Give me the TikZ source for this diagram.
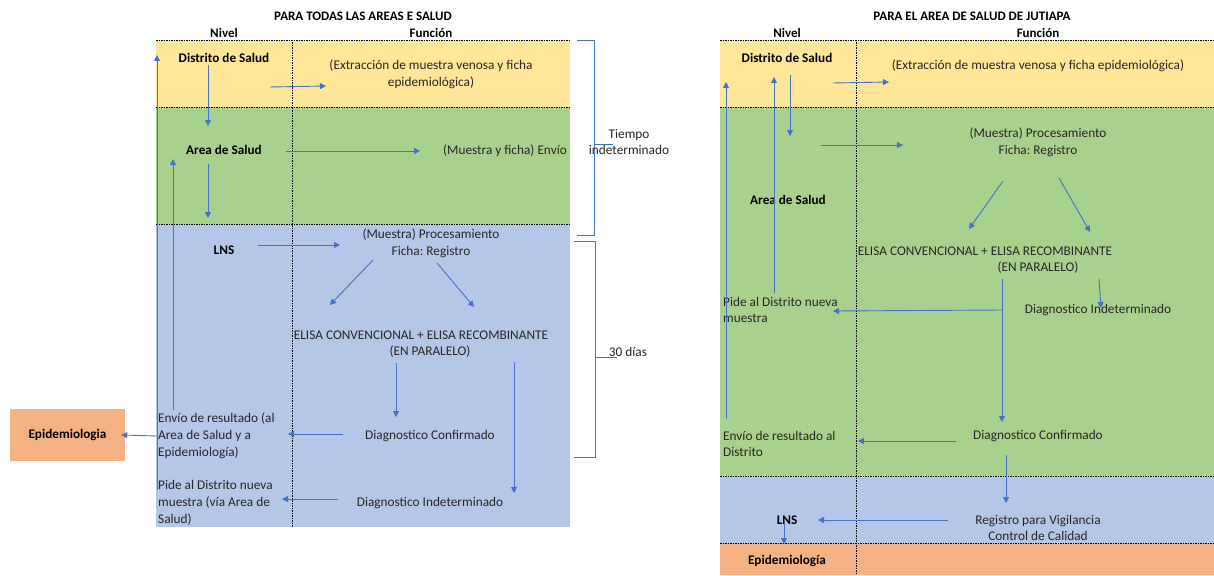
\documentclass[tikz,border=0pt]{standalone}
\usepackage{fontspec}
\setmainfont{Carlito}
\frenchspacing
\usetikzlibrary{arrows.meta}
\definecolor{cyellow}{HTML}{FFE699}
\definecolor{cgreen}{HTML}{A9D18E}
\definecolor{cblue}{HTML}{B4C7E7}
\definecolor{corange}{HTML}{F4B183}
\definecolor{carrow}{HTML}{4472C4}
\begin{document}
\begin{tikzpicture}[x=1pt,y=-1pt,
 txt/.style={font=\fontsize{13.3}{16.8}\selectfont, inner sep=0pt, align=center, text=black!85},
 txtl/.style={txt, align=left, anchor=west},
 lbl/.style={font=\bfseries\fontsize{13.2}{15}\selectfont, inner sep=0pt},
 ttl/.style={font=\bfseries\fontsize{13}{15}\selectfont, inner sep=0pt},
 arr/.style={draw=carrow, line width=0.9pt, -{Triangle[length=6pt,width=6pt]}},
 ln/.style={draw=carrow, line width=0.9pt},
 sep/.style={draw=black, line width=0.9pt, dash pattern=on 1.5pt off 1pt},
 brace/.style={draw=carrow, line width=1pt}]
\useasboundingbox (0,0) rectangle (1214,575);

% ---------- LEFT PANEL ----------
\fill[cyellow] (156,40) rectangle (570,107);
\fill[cgreen] (156,107) rectangle (570,224);
\fill[cblue] (156,224) rectangle (570,527);
\draw[sep] (156,40) -- (570,40);
\draw[sep] (156,107) -- (570,107);
\draw[sep] (156,224) -- (570,224);
\draw[sep] (292,40) -- (292,527);

\node[ttl] (t1) at (363,16) {PARA TODAS LAS AREAS E SALUD};
\node[ttl] (n1) at (224,33) {Nivel};
\node[ttl] (f1) at (431,33) {Función};

\node[lbl] (ds1) at (224,58) {Distrito de Salud};
\node[lbl] (as1) at (224,150) {Area de Salud};
\node[lbl] (lns1) at (224,250) {LNS};

\node[txt] (ext1) at (431,74) {(Extracción de muestra venosa y ficha\\epidemiológica)};
\node[txt] (env1) at (505,151) {(Muestra y ficha) Envío};
\node[txt] (proc1) at (431,243) {(Muestra) Procesamiento\\Ficha: Registro};
\node[txt] (elisa1) at (421,335) {ELISA CONVENCIONAL + ELISA RECOMBINANTE};
\node[txt] (par1) at (430,352) {(EN PARALELO)};
\node[txt] (conf1) at (430,436) {Diagnostico Confirmado};
\node[txt] (ind1) at (430,503) {Diagnostico Indeterminado};
\node[txtl] (res1) at (158,436) {Envío de resultado (al\\Area de Salud y a\\Epidemiología)};
\node[txtl] (pide1) at (158,503) {Pide al Distrito nueva\\muestra (vía Area de\\Salud)};

\node[fill=corange, minimum width=115pt, minimum height=52pt, inner sep=0pt,
      font=\bfseries\fontsize{13.2}{15}\selectfont] (epi1) at (67.5,435) {Epidemiologia};

% left arrows
\coordinate (a1s) at (270,87);  \coordinate (a1e) at (326,86);
\draw[arr] (a1s) -- (a1e);
\coordinate (a2s) at (208,65);  \coordinate (a2e) at (208,126);
\draw[arr] (a2s) -- (a2e);
\coordinate (a3s) at (286,151); \coordinate (a3e) at (420,151);
\draw[arr] (a3s) -- (a3e);
\coordinate (a4s) at (208,164); \coordinate (a4e) at (208,218);
\draw[arr] (a4s) -- (a4e);
\coordinate (a5s) at (157,490); \coordinate (a5e) at (157,55);
\draw[arr] (a5s) -- (a5e);
\coordinate (a6s) at (173,410); \coordinate (a6e) at (173,159);
\draw[arr] (a6s) -- (a6e);
\coordinate (a7s) at (258,245); \coordinate (a7e) at (340,245);
\draw[arr] (a7s) -- (a7e);
\coordinate (a8s) at (373,260); \coordinate (a8e) at (330,305);
\draw[arr] (a8s) -- (a8e);
\coordinate (a9s) at (437,263); \coordinate (a9e) at (474,307);
\draw[arr] (a9s) -- (a9e);
\coordinate (a10s) at (396,363); \coordinate (a10e) at (396,417);
\draw[arr] (a10s) -- (a10e);
\coordinate (a11s) at (514,362); \coordinate (a11e) at (514,493);
\draw[arr] (a11s) -- (a11e);
\coordinate (a12s) at (343,434); \coordinate (a12e) at (288,434);
\draw[arr] (a12s) -- (a12e);
\coordinate (a13s) at (338,499); \coordinate (a13e) at (282,499);
\draw[arr] (a13s) -- (a13e);
\coordinate (a14s) at (157,436);
\draw[arr] (a14s) -- ([xshift=-4pt]epi1.east);

% braces
\draw[brace] (577,41) -- (594,41) -- (594,235) -- (577,235);
\draw[brace] (594,144) -- (613,144);
\node[txt] (tiempo) at (629,142) {Tiempo\\indeterminado};
\draw[brace] (574,241) -- (595,241) -- (595,457) -- (574,457);
\draw[brace] (595,357) -- (617,357);
\node[txt] (dias) at (628,352) {30 días};

% ---------- RIGHT PANEL ----------
\fill[cyellow] (720,40) rectangle (1214,107);
\fill[cgreen] (720,107) rectangle (1214,476);
\fill[cblue] (720,476) rectangle (1214,543);
\fill[corange] (720,543) rectangle (1214,575);
\draw[sep] (720,40) -- (1214,40);
\draw[sep] (720,107) -- (1214,107);
\draw[sep] (720,476) -- (1214,476);
\draw[sep] (720,543) -- (1214,543);
\draw[sep] (856,40) -- (856,575);

\node[ttl] (t2) at (972,16) {PARA EL AREA DE SALUD DE JUTIAPA};
\node[ttl] (n2) at (787,33) {Nivel};
\node[ttl] (f2) at (1038,33) {Función};

\node[lbl] (ds2) at (787,58) {Distrito de Salud};
\node[lbl] (as2) at (788,200) {Area de Salud};
\node[lbl] (lns2) at (787,520) {LNS};
\node[lbl] (epi2) at (787,561) {Epidemiología};

\node[txt] (ext2) at (1038,66) {(Extracción de muestra venosa y ficha epidemiológica)};
\node[txt] (proc2) at (1038,142) {(Muestra) Procesamiento\\Ficha: Registro};
\node[txt] (elisa2) at (985,251) {ELISA CONVENCIONAL + ELISA RECOMBINANTE};
\node[txt] (par2) at (1038,268) {(EN PARALELO)};
\node[txt] (ind2) at (1098,310) {Diagnostico Indeterminado};
\node[txt] (conf2) at (1038,436) {Diagnostico Confirmado};
\node[txt] (reg2) at (1038,528) {Registro para Vigilancia\\Control de Calidad};
\node[txtl] (pide2) at (723,310) {Pide al Distrito nueva\\muestra};
\node[txtl] (res2) at (723,444) {Envío de resultado al\\Distrito};

% right arrows
\coordinate (b1s) at (833,83);  \coordinate (b1e) at (889,82);
\draw[arr] (b1s) -- (b1e);
\coordinate (b2s) at (790,75);  \coordinate (b2e) at (790,136);
\draw[arr] (b2s) -- (b2e);
\coordinate (b3s) at (774,293); \coordinate (b3e) at (774,77);
\draw[arr] (b3s) -- (b3e);
\coordinate (b4s) at (726,419); \coordinate (b4e) at (726,82);
\draw[arr] (b4s) -- (b4e);
\coordinate (b5s) at (821,145); \coordinate (b5e) at (903,145);
\draw[arr] (b5s) -- (b5e);
\coordinate (b6s) at (1003,181); \coordinate (b6e) at (969,229);
\draw[arr] (b6s) -- (b6e);
\coordinate (b7s) at (1059,178); \coordinate (b7e) at (1090,232);
\draw[arr] (b7s) -- (b7e);
\coordinate (b8s) at (1002,279); \coordinate (b8e) at (1002,422);
\draw[arr] (b8s) -- (b8e);
\coordinate (b9s) at (1002,310); \coordinate (b9e) at (833,311);
\draw[arr] (b9s) -- (b9e);
\coordinate (b10s) at (1099,279); \coordinate (b10e) at (1101,308);
\draw[arr] (b10s) -- (b10e);
\coordinate (b11s) at (956,441); \coordinate (b11e) at (858,441);
\draw[arr] (b11s) -- (b11e);
\coordinate (b12s) at (1006,455); \coordinate (b12e) at (1006,503);
\draw[arr] (b12s) -- (b12e);
\coordinate (b13s) at (948,520); \coordinate (b13e) at (818,520);
\draw[arr] (b13s) -- (b13e);
\coordinate (b14s) at (784,524); \coordinate (b14e) at (784,544);
\draw[arr] (b14s) -- (b14e);
\end{tikzpicture}
\end{document}
